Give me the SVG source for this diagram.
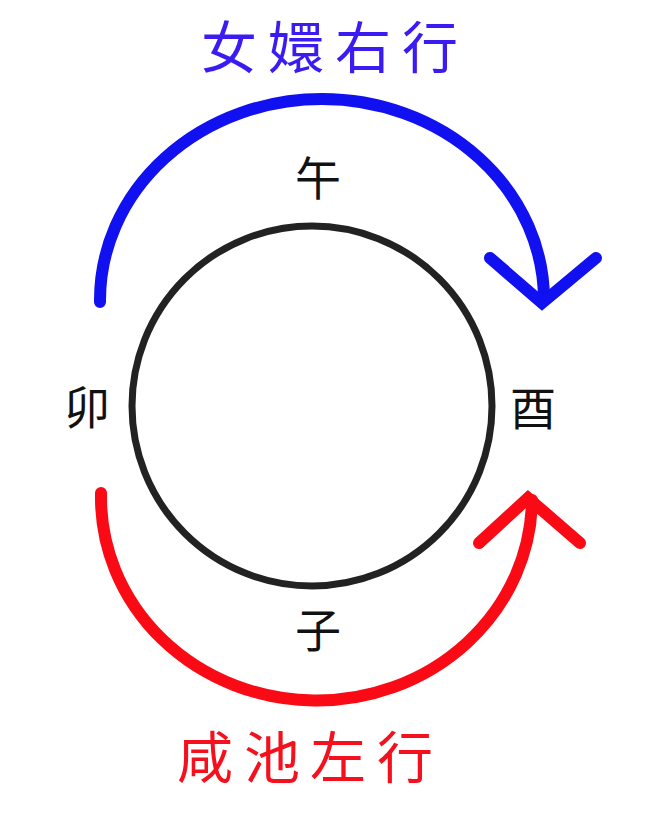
<svg xmlns="http://www.w3.org/2000/svg" width="659" height="837" viewBox="0 0 659 837">
<style>
.lbl{font-family:"Noto Sans CJK SC","Noto Sans CJK TC",sans-serif;font-size:46px;fill:#111;text-anchor:middle}
.ttl{font-family:"Noto Sans CJK SC","Noto Sans CJK TC",sans-serif;font-size:56px;text-anchor:middle}
.arc{fill:none;stroke-width:12;stroke-linecap:round;stroke-linejoin:miter}
</style>
<rect width="659" height="837" fill="#fff"/>
<g id="circle"><circle cx="312" cy="406" r="180" fill="none" stroke="#222" stroke-width="7"/></g>
<g id="wu"><text class="lbl" x="318" y="195">午</text></g>
<g id="zi"><text class="lbl" x="318" y="647">子</text></g>
<g id="mao"><text class="lbl" x="87" y="424">卯</text></g>
<g id="you"><text class="lbl" x="533" y="425">酉</text></g>
<g id="title-top"><text class="ttl" fill="#3a1cf2" x="229 296 363 430" y="68">女嬛右行</text></g>
<g id="title-bottom"><text class="ttl" fill="#f5101e" x="205 272 338 405" y="778">咸池左行</text></g>
<g id="connectors">
<path class="arc" stroke="#1010f0" d="M100,302 L100,300 A222,201 0 0 1 544,300"/>
<path class="arc" stroke="#1010f0" d="M490,258 L542,303 L596,258"/>
<path class="arc" stroke="#fa0a14" d="M101,493 L101,495 A215.5,203 0 0 0 532,500"/>
<path class="arc" stroke="#fa0a14" d="M479,543 L528,498 L580,543"/>
</g>
</svg>
